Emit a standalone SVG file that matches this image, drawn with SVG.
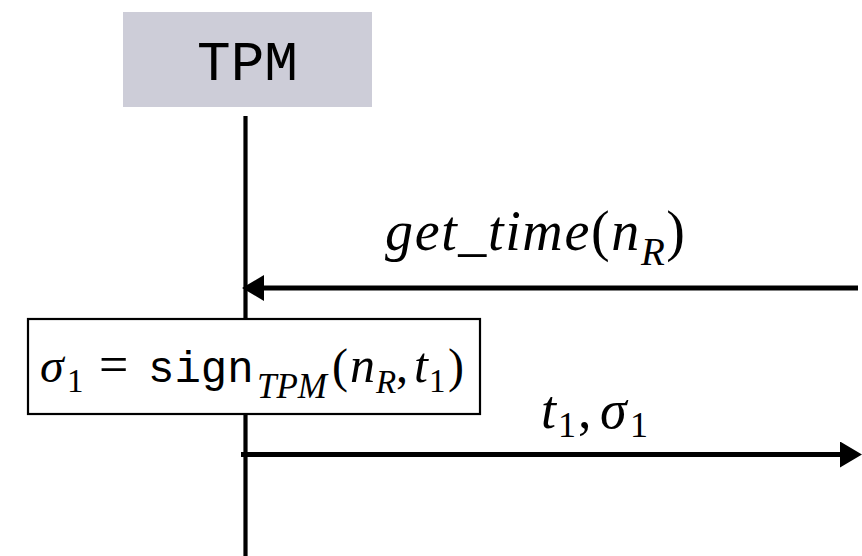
<svg xmlns="http://www.w3.org/2000/svg" width="862" height="556" viewBox="0 0 862 556">
  <style>
    .mono { font-family: "Liberation Mono", "DejaVu Sans Mono", monospace; fill: #000; }
    .mi { font-family: "Liberation Serif", "DejaVu Serif", serif; font-style: italic; fill: #000; }
    .rm { font-family: "Liberation Serif", "DejaVu Serif", serif; font-style: normal; fill: #000; }
    .msg { stroke: #000; stroke-width: 5; fill: none; }
  </style>
  <defs>
    <marker id="arrow" viewBox="0 0 22 26" refX="0" refY="13" markerWidth="22" markerHeight="26" markerUnits="userSpaceOnUse" orient="auto">
      <path d="M0,0 L22,13 L0,26 Z" fill="#000"/>
    </marker>
  </defs>

  <g id="tpm">
    <rect x="123" y="12" width="249" height="95" fill="#cdcdd8"/>
    <text class="mono" x="247.5" y="80" font-size="56" text-anchor="middle">TPM</text>
  </g>

  <g id="connectors">
    <line id="lifeline" x1="245.5" y1="116" x2="245.5" y2="556" stroke="#000" stroke-width="4.2"/>
    <line id="msg-get-time" class="msg" x1="858" y1="288" x2="264" y2="288" marker-end="url(#arrow)"/>
    <line id="msg-reply" class="msg" x1="241" y1="454.5" x2="840" y2="454.5" stroke-width="4.6" marker-end="url(#arrow)"/>
  </g>

  <g id="label-get-time">
    <text class="mi" x="385" y="250" font-size="56" textLength="300" lengthAdjust="spacing">get<tspan class="rm">_</tspan>time<tspan class="rm">(</tspan>n<tspan font-size="39" dy="15">R</tspan><tspan class="rm" dy="-15">)</tspan></text>
  </g>

  <g id="sign-box">
    <rect x="28" y="319" width="452" height="95" fill="#fff" stroke="#000" stroke-width="2.2"/>
    <text class="mi" x="40" y="382" font-size="48">σ</text>
    <text class="rm" x="67" y="392" font-size="33">1</text>
    <text class="rm" x="99" y="382" font-size="52">=</text>
    <text class="mono" x="148" y="382" font-size="44">sign</text>
    <text class="mi" x="257" y="398" font-size="35">TPM</text>
    <text class="rm" x="332" y="382" font-size="48">(</text>
    <text class="mi" x="350" y="382" font-size="50">n</text>
    <text class="mi" x="376" y="393" font-size="33">R</text>
    <text class="rm" x="396" y="382" font-size="48">,</text>
    <text class="mi" x="414" y="382" font-size="50">t</text>
    <text class="rm" x="429" y="392" font-size="33">1</text>
    <text class="rm" x="448" y="382" font-size="48">)</text>
  </g>

  <g id="label-reply">
    <text class="mi" x="541" y="428" font-size="54">t</text>
    <text class="rm" x="558" y="437" font-size="36">1</text>
    <text class="rm" x="578" y="428" font-size="54">,</text>
    <text class="mi" x="600" y="428" font-size="54">σ</text>
    <text class="rm" x="630" y="437" font-size="36">1</text>
  </g>
</svg>
